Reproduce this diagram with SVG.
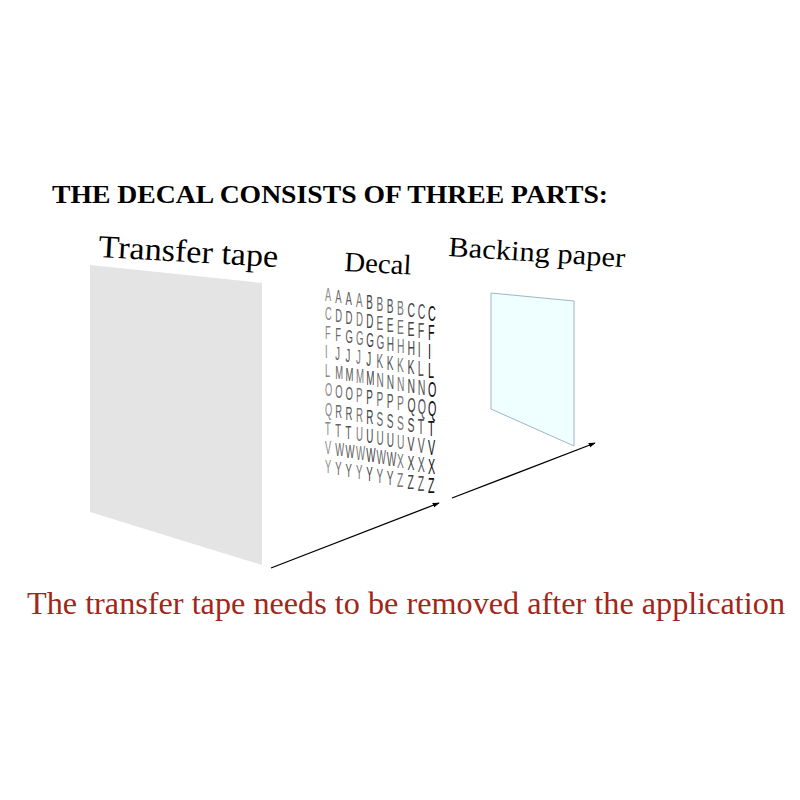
<svg xmlns="http://www.w3.org/2000/svg" width="800" height="800" viewBox="0 0 800 800">
<style>
.title{font-family:"Liberation Serif","Times New Roman",serif;font-weight:bold;font-size:26px;fill:#000}
.lbl{font-family:"Liberation Serif","Times New Roman",serif;fill:#000}
.note{font-family:"Liberation Serif","Times New Roman",serif;font-size:32px;fill:#a3261b}
.lt{font-family:"Liberation Sans",Arial,sans-serif}
.conn{stroke:#000;stroke-width:1.3;fill:none}
</style>
<defs>
<marker id="ah" viewBox="0 0 10 10" refX="9" refY="5" markerWidth="7" markerHeight="7" orient="auto" markerUnits="userSpaceOnUse">
<path d="M0,1.5 L10,5 L0,8.5 z" fill="#000"/>
</marker>
</defs>
<rect width="800" height="800" fill="#fff"/>
<text class="title" x="52" y="203" textLength="556" lengthAdjust="spacingAndGlyphs">THE DECAL CONSISTS OF THREE PARTS:</text>

<g id="transfer-tape">
<polygon points="90,265 262,283 262,565 90,512" fill="#e4e4e4"/>
<text class="lbl" x="98" y="257" font-size="32" transform="rotate(3.2 98 257)" textLength="180" lengthAdjust="spacingAndGlyphs">Transfer tape</text>
</g>

<g id="decal">
<text class="lbl" x="344" y="271" font-size="28" transform="rotate(3 344 271)" textLength="67" lengthAdjust="spacingAndGlyphs">Decal</text>
<g class="lt">
<text transform="translate(325,0) scale(0.5,1)" font-size="18.5" fill="#888" x="0 0 0 0 0 0 0 0 0 0" y="301 320.1 339.2 358.3 377.4 396.5 415.6 434.7 453.8 472.9">ACFILOQTVY</text>
<text transform="translate(335.3,2) scale(0.5,1)" font-size="18.8" fill="#666" x="0 0 0 0 0 0 0 0 0 0" y="301 320.1 339.2 358.3 377.4 396.5 415.6 434.7 453.8 472.9">ADFJMORTWY</text>
<text transform="translate(345.6,4) scale(0.5,1)" font-size="19.1" fill="#555" x="0 0 0 0 0 0 0 0 0 0" y="301 320.1 339.2 358.3 377.4 396.5 415.6 434.7 453.8 472.9">ADGJMORTWY</text>
<text transform="translate(355.9,6) scale(0.5,1)" font-size="19.4" fill="#777" x="0 0 0 0 0 0 0 0 0 0" y="301 320.1 339.2 358.3 377.4 396.5 415.6 434.7 453.8 472.9">ADGJMPRUWY</text>
<text transform="translate(366.2,8) scale(0.5,1)" font-size="19.7" fill="#444" x="0 0 0 0 0 0 0 0 0 0" y="301 320.1 339.2 358.3 377.4 396.5 415.6 434.7 453.8 472.9">BDGJMPRUWY</text>
<text transform="translate(376.5,10) scale(0.5,1)" font-size="20" fill="#666" x="0 0 0 0 0 0 0 0 0 0" y="301 320.1 339.2 358.3 377.4 396.5 415.6 434.7 453.8 472.9">BEGKNPSUWY</text>
<text transform="translate(386.8,12) scale(0.5,1)" font-size="20.3" fill="#555" x="0 0 0 0 0 0 0 0 0 0" y="301 320.1 339.2 358.3 377.4 396.5 415.6 434.7 453.8 472.9">BEHKNPSUWY</text>
<text transform="translate(397.1,14) scale(0.5,1)" font-size="20.6" fill="#777" x="0 0 0 0 0 0 0 0 0 0" y="301 320.1 339.2 358.3 377.4 396.5 415.6 434.7 453.8 472.9">BEHKNPSUXZ</text>
<text transform="translate(407.4,16) scale(0.5,1)" font-size="20.9" fill="#444" x="0 0 0 0 0 0 0 0 0 0" y="301 320.1 339.2 358.3 377.4 396.5 415.6 434.7 453.8 472.9">CEHKNQSVXZ</text>
<text transform="translate(417.7,18) scale(0.5,1)" font-size="21.2" fill="#555" x="0 0 0 0 0 0 0 0 0 0" y="301 320.1 339.2 358.3 377.4 396.5 415.6 434.7 453.8 472.9">CFILNQTVXZ</text>
<text transform="translate(428,20) scale(0.5,1)" font-size="21.5" fill="#111" x="0 0 0 0 0 0 0 0 0 0" y="301 320.1 339.2 358.3 377.4 396.5 415.6 434.7 453.8 472.9">CFILOQTVXZ</text>
</g>
</g>

<g id="backing-paper">
<polygon points="491,293 574,301 574,446 491,409" fill="#effefe" stroke="#9fb6c4" stroke-width="1"/>
<text class="lbl" x="448" y="256" font-size="28" transform="rotate(3.6 448 256)" textLength="177" lengthAdjust="spacingAndGlyphs">Backing paper</text>
</g>

<g id="connectors">
<line class="conn" x1="271" y1="568" x2="439" y2="503" marker-end="url(#ah)"/>
<line class="conn" x1="452" y1="498" x2="595" y2="443" marker-end="url(#ah)"/>
</g>

<text class="note" x="27" y="614" textLength="758" lengthAdjust="spacingAndGlyphs">The transfer tape needs to be removed after the application</text>
</svg>
